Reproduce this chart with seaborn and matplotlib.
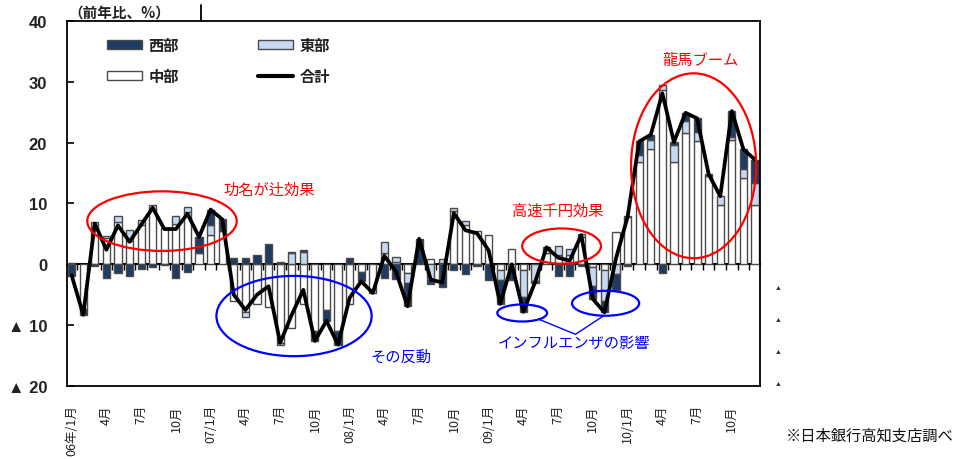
import numpy as np
import matplotlib
matplotlib.use("Agg")
import matplotlib.pyplot as plt
import seaborn as sns
from matplotlib.patches import Ellipse, Patch
from matplotlib.lines import Line2D

# Monthly categories, Jan 2006 - Dec 2010 (labels only every third month)
years = ["06", "07", "08", "09", "10"]
tick_labels = []
for k, yy in enumerate(years):
    first = "06年/1月" if k == 0 else f"{yy}/1月"
    tick_labels += [first, "4月", "7月", "10月"]

# Year-on-year contributions by region (%)
west = [-2.0, -1.0, -0.3, -2.2, -1.5, -1.9, -0.8, -0.5, -0.1, -2.2, -1.2, 2.7,
        2.6, 2.0, 1.0, 1.1, 1.6, 3.4, 0.4, 0.3, 0.3, -1.6, -1.8, -2.2,
        1.0, -1.6, 0.0, -2.3, -2.4, -3.8, 4.2, -0.8, -3.8, -0.9, -1.6, -0.3,
        -2.6, -4.0, -1.5, -2.5, -0.2, 0.0, -1.9, -1.9, -0.2, -2.2, -1.9, -2.7,
        -0.2, 2.2, 0.8, -1.4, 0.5, 1.3, 2.2, 0.3, 0.0, 4.2, 3.3, 3.8]
east = [0.0, 0.0, 1.0, 0.3, 1.0, 1.7, 0.9, 0.8, 0.0, 1.3, 0.9, 0.0,
        1.6, 0.0, 0.0, -0.8, 0.0, 0.0, -0.3, 1.8, 2.0, 0.0, 0.0, 0.0,
        0.0, 0.0, -0.5, 1.9, 0.8, -1.6, 0.0, -2.5, 0.5, 0.5, 0.7, 0.0,
        0.0, -1.5, -1.0, -4.3, -2.8, 1.0, 1.5, 1.0, 0.5, -3.0, -5.0, -1.6,
        0.2, 1.1, 1.6, 0.8, 2.7, 2.0, 1.6, 0.0, 1.4, 0.5, 1.4, 3.6]
central = [0.2, -7.3, 6.0, 4.3, 6.9, 3.9, 6.4, 9.0, 5.9, 6.7, 8.6, 1.8,
           4.8, 5.4, -6.0, -7.8, -6.6, -7.0, -13.0, -10.4, -6.5, -11.0, -7.5, -11.0,
           -6.5, -1.2, -4.2, 1.8, 0.4, -1.5, 0.0, 0.8, 0.3, 8.8, 6.5, 5.4,
           4.9, -1.0, 2.5, -1.0, 0.0, 1.8, 1.5, 1.5, 4.5, -0.5, -1.0, 5.3,
           7.8, 16.9, 18.9, 28.7, 16.9, 21.6, 20.2, 14.5, 9.8, 20.5, 14.2, 9.8]
total = [-1.8, -8.3, 6.7, 2.4, 6.4, 3.7, 6.5, 9.3, 5.8, 5.8, 8.3, 4.5,
         9.0, 7.4, -5.0, -7.5, -5.0, -3.6, -12.9, -8.3, -4.2, -12.6, -9.3, -13.2,
         -5.5, -2.8, -4.7, 1.4, -1.2, -6.9, 4.2, -2.5, -3.0, 8.4, 5.6, 5.1,
         2.3, -6.5, 0.0, -7.8, -3.0, 2.8, 1.1, 0.6, 4.8, -5.7, -7.9, 1.0,
         7.8, 20.2, 21.3, 28.1, 20.1, 24.9, 24.0, 14.8, 11.2, 25.2, 18.9, 17.2]

series_names = ["中部", "東部", "西部"]
series_colors = ["#FFFFFF", "#C6D9F0", "#1F3A63"]
edge_color = "#4A4A4A"

sns.set_theme(style="white")
plt.rcParams["font.family"] = ["Noto Sans CJK JP", "DejaVu Sans"]
num_font = ["Liberation Sans", "Noto Sans CJK JP"]

fig = plt.figure(figsize=(9.69, 4.6), dpi=100)
ax = fig.add_axes([0.0688, 0.1587, 0.7155, 0.7935])

x = np.arange(len(total))
bar_w = 0.62
pos_base = np.zeros(len(x))
neg_base = np.zeros(len(x))
for vals, col in zip([central, east, west], series_colors):
    v = np.asarray(vals, dtype=float)
    pos = np.where(v > 0, v, 0.0)
    neg = np.where(v < 0, v, 0.0)
    m = pos > 0
    ax.bar(x[m], pos[m], bottom=pos_base[m], width=bar_w, color=col,
           edgecolor=edge_color, linewidth=1.0, zorder=2)
    m = neg < 0
    ax.bar(x[m], neg[m], bottom=neg_base[m], width=bar_w, color=col,
           edgecolor=edge_color, linewidth=1.0, zorder=2)
    pos_base += pos
    neg_base += neg

sns.lineplot(x=x, y=total, color="black", linewidth=2.7, ax=ax, zorder=4)

ax.set_xlim(-0.43, 59.43)
ax.set_ylim(-20, 40)

# y axis
yt = [40, 30, 20, 10, 0, -10, -20]
ax.set_yticks(yt)
ax.set_yticklabels([("▲ " + str(-v)) if v < 0 else str(v) for v in yt],
                   fontsize=12, fontweight="bold", family=num_font, color="#222222")
ax.tick_params(axis="y", direction="in", length=5, width=1.2, pad=14,
               left=True, color="black")

# x axis labels at the bottom
ax.set_xticks(np.arange(0, 60, 3))
ax.set_xticklabels(tick_labels, rotation=90, fontsize=9, va="top", ha="center",
                   color="#222222")
ax.tick_params(axis="x", length=0, pad=13)
ax.set_xlabel("")
ax.set_ylabel("")

for s in ax.spines.values():
    s.set_visible(True)
    s.set_color("black")
    s.set_linewidth(1.3)

# category axis crossing at zero
zero_frac = (0 - (-20)) / 60
sec = ax.secondary_xaxis(zero_frac)
sec.set_xticks(np.arange(-0.5, 60, 1))
sec.set_xticklabels([])
sec.tick_params(axis="x", direction="out", length=4, width=1.0, color="black")
sec.spines["bottom"].set_linewidth(1.5)
sec.spines["bottom"].set_color("black")

# legend
handles = [Patch(facecolor=series_colors[2], edgecolor=edge_color, label="西部"),
           Patch(facecolor=series_colors[0], edgecolor=edge_color, label="中部"),
           Patch(facecolor=series_colors[1], edgecolor=edge_color, label="東部"),
           Line2D([0], [0], color="black", lw=3, label="合計")]
leg = fig.legend(handles=handles, ncol=2, loc="upper left",
                 bbox_to_anchor=(107 / 969, 1 - 38 / 460), frameon=False,
                 prop={"size": 11, "weight": "bold"}, handlelength=2.3,
                 handleheight=0.55, handletextpad=0.4, columnspacing=5.2,
                 labelspacing=1.0, borderpad=0, borderaxespad=0)
for t in leg.get_texts():
    t.set_color("#222222")

# annotations
ann_kw = dict(fill=False, lw=1.6, clip_on=False, zorder=5)
txt_kw = dict(fontsize=11, va="center")
ax.add_patch(Ellipse((7.8, 7.1), 12.9, 9.8, ec="#FF0000", **ann_kw))
ax.text(13.1, 12.4, "功名が辻効果", color="#FF0000", **txt_kw)

ax.add_patch(Ellipse((19.2, -8.5), 13.4, 13.2, ec="#0000FF", **ann_kw))
ax.text(25.8, -15.1, "その反動", color="#0000FF", **txt_kw)

ax.add_patch(Ellipse((42.3, 3.0), 6.8, 5.8, ec="#FF0000", **ann_kw))
ax.text(38.0, 8.8, "高速千円効果", color="#FF0000", **txt_kw)

ax.add_patch(Ellipse((38.9, -8.0), 4.3, 2.8, ec="#0000FF", **ann_kw))
ax.add_patch(Ellipse((46.1, -6.4), 5.8, 4.1, ec="#0000FF", **ann_kw))
ax.plot([40.3, 43.5, 45.9], [-9.0, -11.5, -8.5], color="#0000FF", lw=1.0,
        clip_on=False, zorder=5)
ax.text(36.8, -12.8, "インフルエンザの影響", color="#0000FF", **txt_kw)

ax.add_patch(Ellipse((53.7, 16.2), 10.8, 30.4, ec="#FF0000", **ann_kw))
ax.text(54.3, 33.7, "龍馬ブーム", color="#FF0000", ha="center", **txt_kw)

# unit label and frame tick above the plot
fig.text(68 / 969, 1 - 13 / 460, "（前年比、%）", fontsize=10.5, fontweight="bold",
         va="center", ha="left", color="#222222")
fig.add_artist(Line2D([201 / 969, 201 / 969], [1 - 6 / 460, 1 - 22 / 460],
                      color="black", lw=1.3))

# right-hand small markers
for yy in [288, 320, 352, 384]:
    fig.text(778 / 969, 1 - yy / 460, "▲", fontsize=3.5, ha="center", va="center",
             color="#333333")

fig.text(786 / 969, 1 - 436 / 460, "※日本銀行高知支店調べ", fontsize=11,
         va="center", ha="left", color="#111111")

fig.savefig("out.png", dpi=100)
